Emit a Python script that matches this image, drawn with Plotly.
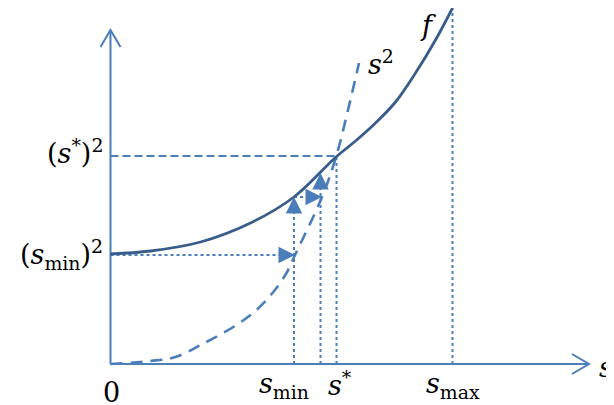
import plotly.graph_objects as go

# ---- data ----
f_x = [0.0, 0.40, 0.90, 1.40, 1.835, 2.255, 2.45, 2.65, 2.85, 3.05, 3.25, 3.42]
f_y = [1.10, 1.13, 1.22, 1.41, 1.67, 2.07, 2.23, 2.41, 2.62, 2.91, 3.24, 3.56]

sq_x = [0.0, 0.40, 0.65, 0.92, 1.26, 1.46, 1.62, 1.76, 1.845, 2.115, 2.255, 2.375, 2.485]
sq_y = [0.0, 0.03, 0.07, 0.20, 0.39, 0.54, 0.71, 0.91, 1.09, 1.67, 2.07, 2.54, 3.01]

s_min, s_mid, s_star, s_max = 1.835, 2.10, 2.26, 3.42
smin_sq, f_smin, f_smid, sstar_sq, f_smax = 1.09, 1.67, 1.91, 2.08, 3.56
s_hit_1, s_hit_2 = 1.845, 2.115   # where the horizontal steps meet the s^2 curve

x_axis_end, y_axis_end = 4.785, 3.34

tick_labels = ["0", "<i>s</i><sub>min</sub>", "<i>s</i><sup>*</sup>", "<i>s</i><sub>max</sub>"]
y_labels = ["(<i>s</i><sub>min</sub>)<sup>2</sup>", "(<i>s</i><sup>*</sup>)<sup>2</sup>"]

AXIS = "rgb(74,126,187)"
FCOL = "rgb(56,93,138)"
FONT = "DejaVu Serif"

fig = go.Figure()

def line(xs, ys, color, width, dash="solid", shape="linear"):
    fig.add_trace(go.Scatter(x=xs, y=ys, mode="lines", hoverinfo="skip",
                             line=dict(color=color, width=width, dash=dash, shape=shape)))

# axes with open arrowheads
line([0, 0], [0, y_axis_end], AXIS, 2)
line([0, x_axis_end], [0, 0], AXIS, 2)
line([-0.10, 0, 0.10], [y_axis_end - 0.17, y_axis_end, y_axis_end - 0.17], AXIS, 2)
line([x_axis_end - 0.17, x_axis_end, x_axis_end - 0.17], [0.10, 0, -0.10], AXIS, 2)

# dotted guides
dot = "dot"
line([0, s_hit_1], [smin_sq, smin_sq], AXIS, 2, dot)
line([s_min, s_min], [0, f_smin], AXIS, 2, dot)
line([s_min, s_hit_2], [f_smin, f_smin], AXIS, 2, dot)
line([s_mid, s_mid], [0, f_smid], AXIS, 2, dot)
line([s_star, s_star], [0, sstar_sq], AXIS, 2, dot)
line([s_max, s_max], [0, f_smax], AXIS, 2, dot)
# dashed guide to (s*)^2
line([0, s_star], [sstar_sq, sstar_sq], AXIS, 1.8, "8px,4px")

# curves
line(sq_x, sq_y, AXIS, 2.6, "12px,8px", "spline")
line(f_x, f_y, FCOL, 2.8, "solid", "spline")

# filled arrowheads on the dotted steps
heads = [(s_hit_1, smin_sq, -6, 0), (s_min, f_smin, 0, 6),
         (s_hit_2, f_smin, -6, 0), (s_mid, f_smid, 0, 6)]
for hx, hy, ax, ay in heads:
    fig.add_annotation(x=hx, y=hy, ax=ax, ay=ay, axref="pixel", ayref="pixel",
                       text="", showarrow=True, arrowhead=2, arrowsize=2.2,
                       arrowwidth=1.5, arrowcolor=AXIS, standoff=0)

tfont = dict(family=FONT, size=27, color="black")
def label(x, y, text, xanchor="center", yanchor="middle"):
    fig.add_annotation(x=x, y=y, text=text, showarrow=False, font=tfont,
                       xanchor=xanchor, yanchor=yanchor)

label(0.005, -0.285, tick_labels[0])
label(s_min - 0.10, -0.21, tick_labels[1])
label(s_star + 0.03, -0.19, tick_labels[2])
label(s_max, -0.21, tick_labels[3])
label(4.86, -0.03, "<i>s</i>", xanchor="left")
label(-0.06, smin_sq + 0.01, y_labels[0], xanchor="right")
label(-0.06, sstar_sq + 0.05, y_labels[1], xanchor="right")
label(3.175, 3.39, "<i>f</i>")
label(2.705, 3.02, "<i>s</i><sup>2</sup>")

fig.update_layout(
    width=614, height=405, margin=dict(l=0, r=0, t=0, b=0),
    paper_bgcolor="white", plot_bgcolor="white", showlegend=False,
    xaxis=dict(range=[-1.025, 5.115], visible=False, fixedrange=True),
    yaxis=dict(range=[-0.49, 3.56], visible=False, fixedrange=True),
)
fig.write_html("out.html")
